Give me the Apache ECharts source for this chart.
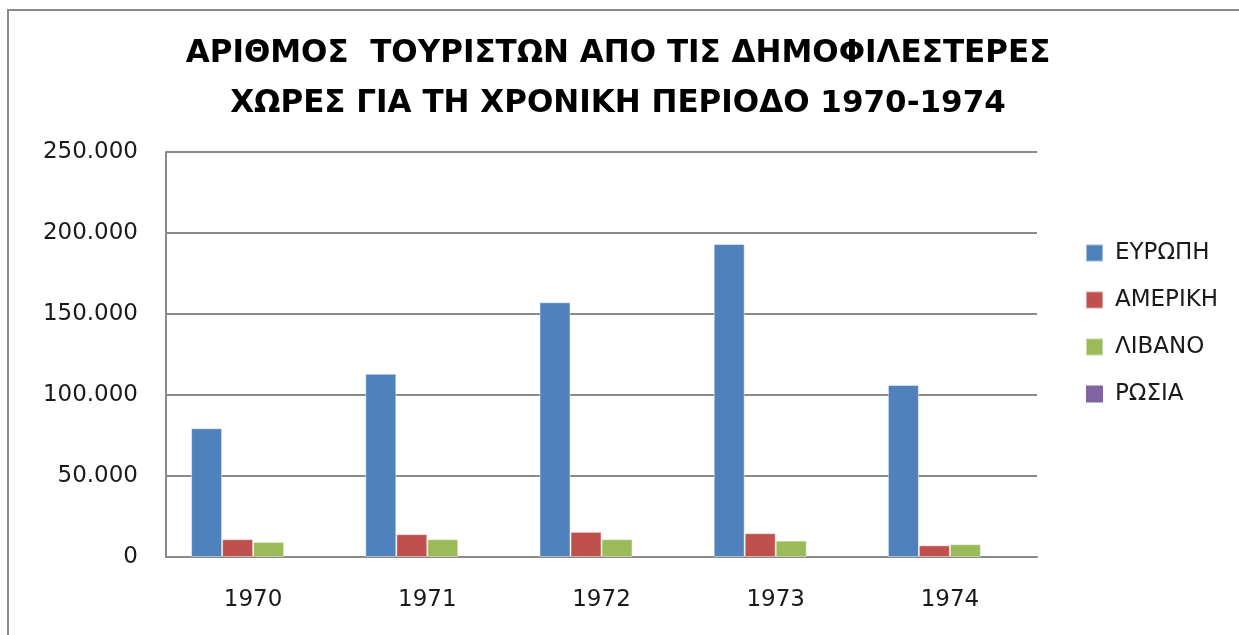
<!DOCTYPE html>
<html>
<head>
<meta charset="utf-8">
<script src="https://cdn.jsdelivr.net/npm/echarts@6/dist/echarts.min.js"></script>
<style>
    html, body { margin: 0; padding: 0; background: #fff; }
    #chart { width: 1239px; height: 635px; }
</style>
</head>
<body>
<div id="chart"></div>
<script>
// data
let years = ['1970', '1971', '1972', '1973', '1974'];
let seriesNames = ['ΕΥΡΩΠΗ', 'ΑΜΕΡΙΚΗ', 'ΛΙΒΑΝΟ', 'ΡΩΣΙΑ'];
let europe = [79500, 113100, 157200, 193200, 106200];
let america = [11000, 14100, 15500, 14700, 7200];
let livano = [9300, 11000, 11000, 10100, 7900];
let russia = [0, 0, 0, 0, 0];
let yTicks = [0, 50000, 100000, 150000, 200000, 250000];

let colors = ['#4F81BD', '#C0504D', '#9BBB59', '#8064A2'];
let values = [europe, america, livano, russia];

// 250000 -> 250.000
let fmt = (v) => {
    if (v === 0) {
        return '0';
    }
    return String(v).replace(/\B(?=(\d{3})+(?!\d))/g, '.');
};

let series = seriesNames.map((name, i) => {
    return {
        name: name,
        type: 'bar',
        data: values[i],
        barWidth: 31,
        barGap: '0%',
        itemStyle: {
            color: colors[i],
            borderColor: i < 3 ? 'rgba(255,255,255,0.45)' : 'transparent',
            borderWidth: i < 3 ? 1 : 0
        }
    };
});

let option = {
    animation: false,
    backgroundColor: '#ffffff',
    textStyle: {
        fontFamily: 'DejaVu Sans'
    },
    title: {
        text: 'ΑΡΙΘΜΟΣ  ΤΟΥΡΙΣΤΩΝ ΑΠΟ ΤΙΣ ΔΗΜΟΦΙΛΕΣΤΕΡΕΣ\nΧΩΡΕΣ ΓΙΑ ΤΗ ΧΡΟΝΙΚΗ ΠΕΡΙΟΔΟ 1970-1974',
        left: 613,
        top: 24,
        textAlign: 'center',
        textStyle: {
            fontFamily: 'DejaVu Sans',
            fontWeight: 'bold',
            fontSize: 31,
            lineHeight: 50,
            color: '#000000'
        }
    },
    legend: {
        orient: 'vertical',
        left: 1080,
        top: 236,
        icon: 'rect',
        itemWidth: 17,
        itemHeight: 17,
        itemGap: 23,
        data: seriesNames,
        textStyle: {
            fontSize: 23,
            lineHeight: 24,
            color: '#1a1a1a',
            padding: [0, 0, 0, 7]
        }
    },
    grid: {
        left: 166,
        right: 202,
        top: 152,
        bottom: 78,
        containLabel: false
    },
    graphic: [
        {
            type: 'rect',
            shape: {x: 8, y: 10, width: 1240, height: 640},
            style: {fill: 'none', stroke: '#8a8a8a', lineWidth: 2},
            silent: true
        }
    ],
    xAxis: {
        type: 'category',
        data: years,
        axisTick: {show: false},
        axisLine: {lineStyle: {color: '#8a8a8a', width: 2}},
        axisLabel: {
            color: '#1a1a1a',
            fontSize: 23,
            margin: 32
        }
    },
    yAxis: {
        type: 'value',
        min: yTicks[0],
        max: yTicks[yTicks.length - 1],
        interval: yTicks[1] - yTicks[0],
        axisTick: {show: false},
        axisLine: {show: true, lineStyle: {color: '#8a8a8a', width: 2}},
        splitLine: {lineStyle: {color: '#8a8a8a', width: 2}},
        axisLabel: {
            color: '#1a1a1a',
            fontSize: 23,
            margin: 28,
            formatter: fmt
        }
    },
    series: series
};

let chart = echarts.init(document.getElementById('chart'));
chart.setOption(option);
</script>
</body>
</html>
